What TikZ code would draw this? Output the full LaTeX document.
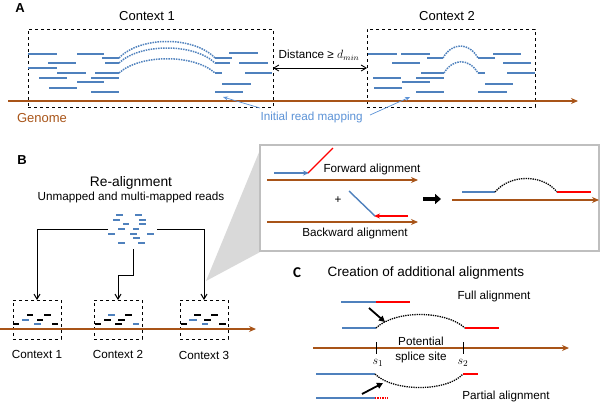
\documentclass[tikz,border=0pt]{standalone}
\usepackage{fontspec}
\setmainfont{Liberation Sans}
\newfontfamily\calibrifont{Carlito}
\usetikzlibrary{arrows.meta,positioning}
\definecolor{readblue}{RGB}{79,129,189}
\definecolor{labelblue}{RGB}{91,146,214}
\definecolor{genomebrown}{RGB}{168,84,24}
\definecolor{panelgray}{RGB}{191,191,191}
\definecolor{wedgegray}{RGB}{217,217,217}
\tikzset{
  read/.style={readblue,line width=2pt},
  sread/.style={line width=1.5pt},
  genome/.style={genomebrown,line width=1.6pt,-{Stealth[length=7pt,width=6pt]}},
  ctxbox/.style={draw,dashed,line width=1pt,outer sep=0pt,inner sep=0pt},
  splice/.style={readblue,line width=1.5pt,densely dotted},
  gap/.style={black,line width=1.3pt,densely dotted},
  conn/.style={line width=1pt,-{Straight Barb[length=5pt,width=6pt]}},
  bigtxt/.style={font=\fontsize{13}{15}\selectfont},
  smalltxt/.style={font=\fontsize{11.7}{14}\selectfont},
  tag/.style={font=\fontsize{13}{15}\selectfont\bfseries}
}
\begin{document}
\begin{tikzpicture}[x=1pt,y=-1pt]
  \useasboundingbox (0,0) rectangle (600,402);
  % panel A
  \node[tag] (tagA) at (20,8) {A};
  \node[ctxbox,minimum width=245pt,minimum height=78pt] (ctxA) at (150.5,68) {};
  \node[ctxbox,minimum width=168pt,minimum height=78pt] (ctxB) at (451,68) {};
  \node[bigtxt] (lblA) at (147,16) {Context 1};
  \node[bigtxt] (lblB) at (447,16) {Context 2};
  \draw[genome] (8,101) -- (578,101);
  \node[bigtxt,text=genomebrown] (gen) at (42,118) {Genome};
  \foreach \y/\a/\b in {54/28/57,54/77/104,58/102/119,63/48/76,63/105/119,68/28/57,
      73/57/86,73/95/119,78/39/67,78/91/119,82/77/104,88/49/77,92/91/119,
      53/229/258,58/215/232,63/215/230,63/239/268,73/215/222,73/245/272,
      84/222/251,92/215/243}
    \draw[read] (\a,\y) -- (\b,\y);
  \draw[splice] (119,58) .. controls (140,36) and (194,36) .. (215,58);
  \draw[splice] (119,63) .. controls (140,43) and (194,43) .. (215,63);
  \draw[splice] (119,73) .. controls (140,54) and (194,54) .. (215,73);
  \foreach \y/\a/\b in {54/368/397,54/401/430,54/493/521,58/427/443,58/478/495,
      63/392/420,63/503/531,73/421/444,73/478/485,73/507/535,78/373/401,
      78/416/444,82/402/430,84/485/513,88/374/402,92/416/444,92/478/507}
    \draw[read] (\a,\y) -- (\b,\y);
  \draw[splice] (443,58) .. controls (452,42) and (469,42) .. (478,58);
  \draw[splice] (444,73) .. controls (453,58) and (469,58) .. (478,73);
  \draw[line width=0.9pt,{Straight Barb[length=5pt,width=6pt]}-{Straight Barb[length=5pt,width=6pt]}] (ctxA.east) -- (ctxB.west);
  \node[smalltxt] (dist) at (319,55) {Distance ≥ \(d_{min}\)};
  \node[smalltxt,text=labelblue,anchor=west] (irm) at (257,117) {Initial read mapping};
  \coordinate (hit1) at (223,97);
  \coordinate (hit2) at (410,97);
  \draw[labelblue,line width=0.7pt,-{Stealth[length=5pt,width=4pt]}] (irm.north west) ++(3,0) -- (hit1);
  \draw[labelblue,line width=0.7pt,-{Stealth[length=5pt,width=4pt]}] (370,115) -- (hit2);
  % panel B
  \node[tag] (tagB) at (22,160) {B};
  \node[font=\fontsize{13.8}{16}\selectfont] (realign) at (131,183) {Re-alignment};
  \node[smalltxt] (unmapped) at (131,197) {Unmapped and multi-mapped reads};
  \fill[wedgegray] (206,281) -- (262,145) -- (262,251) -- cycle;
  \node[draw=panelgray,fill=white,line width=1.2pt,minimum width=339pt,minimum height=106pt,outer sep=0pt] (zoomed) at (429.5,198) {};
  \foreach \y/\a/\b in {215/116/123,215/135/142,220/113/120,220/139/146,224/123/129,
      224/139/146,229/118/125,229/133/139,234/108/115,234/130/137,234/147/154,
      238/133/140,243/118/125,243/138/145}
    \draw[readblue,line width=1.5pt] (\a,\y) -- (\b,\y);
  \node[ctxbox,minimum width=48pt,minimum height=39pt] (bctx1) at (37,319.5) {};
  \node[ctxbox,minimum width=48pt,minimum height=39pt] (bctx2) at (118,319.5) {};
  \node[ctxbox,minimum width=48pt,minimum height=39pt] (bctx3) at (204,319.5) {};
  \coordinate (cloudL) at (108,229);
  \coordinate (cloudR) at (157,229);
  \coordinate (cloudB) at (133,249);
  \coordinate (bend) at (133,275);
  \draw[conn] (cloudL) -| (bctx1.north);
  \draw[conn] (cloudR) -| (bctx3.north);
  \draw[conn] (cloudB) -- (bend) -| (bctx2.north);
  \draw[genome] (0,329) -- (256,329);
  \foreach \y/\a/\b/\c in {315/27/33/black,315/44/51/black,320/22/29/readblue,320/37/43/black,
      324/13/19/black,324/34/41/readblue,324/52/58/black,
      315/108/115/readblue,315/125/132/black,320/104/111/black,320/118/125/black,
      324/95/101/black,324/115/122/black,324/133/139/readblue,
      315/194/201/black,315/211/218/black,320/189/197/readblue,320/204/211/black,
      324/181/187/black,324/202/208/readblue,324/219/226/black}
    \draw[sread,\c] (\a,\y) -- (\b,\y);
  \node[smalltxt] (blbl1) at (37,354) {Context 1};
  \node[smalltxt] (blbl2) at (118,354) {Context 2};
  \node[smalltxt] (blbl3) at (204,355) {Context 3};
  % zoomed panel
  \draw[genome] (267,180) -- (418,180);
  \draw[readblue,line width=1.4pt,-{Stealth[length=6pt,width=5pt]}] (274,173) -- (309,173);
  \draw[red,line width=1.4pt] (308,173) -- (333,148);
  \node[smalltxt,anchor=west] (fwd) at (320,169) {Forward alignment};
  \node[smalltxt] (plus) at (338,200) {+};
  \draw[genome] (267,222) -- (418,222);
  \draw[red,line width=1.4pt,-{Stealth[length=6pt,width=5pt]}] (408,216) -- (374,216);
  \draw[readblue,line width=1.4pt] (375,216) -- (349,191);
  \node[smalltxt] (bwd) at (355,233) {Backward alignment};
  \draw[line width=4pt,-{Triangle[length=6pt,width=10pt]}] (423,199) -- (441,199);
  \draw[genome] (452,200) -- (599,200);
  \draw[readblue,line width=1.4pt] (462,192) -- (495,192);
  \draw[gap] (495,192) .. controls (510,174) and (543,174) .. (557,192);
  \draw[red,line width=1.4pt] (557,192) -- (591,192);
  % panel C
  \node[font=\fontsize{15}{17}\selectfont\calibrifont\bfseries] (tagC) at (297,273) {C};
  \node[font=\fontsize{13.5}{16}\selectfont,anchor=west] (creation) at (324,273) {Creation of additional alignments};
  \draw[readblue,line width=1.4pt] (341,302) -- (376,302);
  \draw[red,line width=1.4pt] (376,302) -- (410,302);
  \node[smalltxt] (full) at (494,296) {Full alignment};
  \draw[readblue,line width=1.4pt] (342,328) -- (376,328);
  \draw[gap] (376,328) .. controls (395,310) and (445,310) .. (465,328);
  \draw[red,line width=1.4pt] (465,328) -- (499,328);
  \draw[line width=1.8pt,-{Triangle[length=6pt,width=6pt]}] (369,308) -- (385,322);
  \draw[genome] (313,348) -- (569,348);
  \draw[line width=0.9pt] (376,342) -- (376,354);
  \draw[line width=0.9pt] (463,342) -- (463,354);
  \node[font=\fontsize{13}{15}\selectfont] (s1) at (378,363) {\(s_1\)};
  \node[font=\fontsize{13}{15}\selectfont] (s2) at (463,363) {\(s_2\)};
  \node[smalltxt,align=center] (potential) at (421,350) {Potential\\[1pt]splice site};
  \draw[readblue,line width=1.4pt] (316,374) -- (375,374);
  \draw[gap] (375,374) .. controls (393,392) and (447,392) .. (463,374);
  \draw[red,line width=1.4pt] (463,374) -- (478,374);
  \draw[line width=1.8pt,-{Triangle[length=6pt,width=6pt]}] (362,394) -- (383,383);
  \draw[readblue,line width=1.4pt] (316,398) -- (375,398);
  \draw[red,line width=1.4pt,densely dotted] (375,398) -- (389,398);
  \node[smalltxt] (partial) at (506,396) {Partial alignment};
\end{tikzpicture}
\end{document}
